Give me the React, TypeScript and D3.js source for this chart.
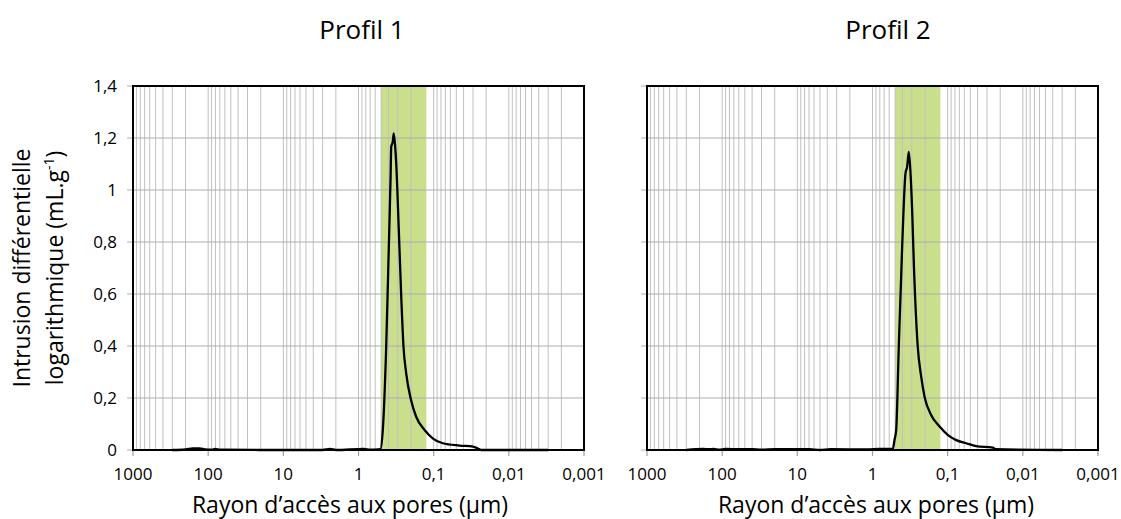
import React from 'react';
import * as d3 from 'd3';

// ---- data ----
const xTickValues = [1000, 100, 10, 1, 0.1, 0.01, 0.001];
const xTickLabels = ['1000', '100', '10', '1', '0,1', '0,01', '0,001'];
const yTickValues = [0, 0.2, 0.4, 0.6, 0.8, 1, 1.2, 1.4];
const yTickLabels = ['0', '0,2', '0,4', '0,6', '0,8', '1', '1,2', '1,4'];

const bandRange = [0.5, 0.125];

const profil1Radius = [300, 200, 160, 130, 110, 90, 80, 70, 20, 3, 2.4, 2, 0.85, 0.7, 0.55, 0.51, 0.475, 0.428, 0.395, 0.375, 0.367, 0.35, 0.34, 0.325, 0.315, 0.291, 0.27, 0.252, 0.232, 0.2, 0.171, 0.132, 0.103, 0.0757, 0.0454, 0.03, 0.026, 0.0234, 0.003];
const profil1Values = [0, 0.002, 0.006, 0.006, 0.002, 0.001, 0.004, 0.001, 0, 0, 0.004, 0, 0.004, 0.001, 0.002, 0.003, 0.077, 0.397, 0.782, 1.038, 1.166, 1.186, 1.218, 1.166, 1.103, 0.846, 0.59, 0.397, 0.295, 0.192, 0.128, 0.077, 0.045, 0.026, 0.017, 0.013, 0.006, 0, 0];

const profil2Radius = [300, 180, 150, 130, 110, 90, 60, 40, 30, 20, 6.9, 5, 3.6, 1.2, 0.8, 0.6, 0.537, 0.51, 0.484, 0.447, 0.403, 0.364, 0.346, 0.329, 0.312, 0.296, 0.282, 0.25, 0.225, 0.203, 0.166, 0.128, 0.1, 0.077, 0.0567, 0.042, 0.025, 0.023, 0.003];
const profil2Values = [0, 0.004, 0.003, 0.004, 0.001, 0.004, 0.003, 0.003, 0.001, 0.003, 0.003, 0, 0.003, 0.002, 0.004, 0.004, 0.004, 0.038, 0.077, 0.397, 0.782, 1.064, 1.09, 1.147, 1.064, 0.911, 0.718, 0.397, 0.282, 0.205, 0.135, 0.09, 0.058, 0.038, 0.026, 0.015, 0.009, 0.003, 0];

const FONT = '"Open Sans", "Noto Sans", sans-serif';

const PW = 451;
const PH = 364;
const TOP = 86;

type PanelProps = {
  left: number;
  title: string;
  titleX: number;
  xLabelX: number;
  radius: number[];
  values: number[];
  showYLabels: boolean;
};

function Panel({ left, title, titleX, xLabelX, radius, values, showYLabels }: PanelProps) {
  const x = d3.scaleLog().domain([1000, 0.001]).range([0, PW]);
  const y = d3.scaleLinear().domain([0, 1.4]).range([PH, 0]);

  const minor: number[] = [];
  for (let e = -3; e < 3; e++) {
    for (let k = 1; k < 10; k++) minor.push(k * Math.pow(10, e));
  }
  const pts = radius.map((r, i) => [r, values[i]] as [number, number]);
  const line = d3
    .line<[number, number]>()
    .x((d) => x(d[0]))
    .y((d) => y(d[1]))
    .curve(d3.curveMonotoneX);

  return (
    <g>
      <text x={titleX} y={39} textAnchor="middle" fontFamily={FONT} fontSize={26} fill="#000">
        {title}
      </text>
      <g transform={`translate(${left},${TOP})`}>
        <rect
          x={x(bandRange[0])}
          y={0}
          width={x(bandRange[1]) - x(bandRange[0])}
          height={PH}
          fill="#cadf8c"
        />
        {minor.map((v, i) => (
          <line key={'v' + i} x1={x(v)} x2={x(v)} y1={0} y2={PH} stroke="#c0c0c0" strokeWidth={1} />
        ))}
        {yTickValues.map((v, i) => (
          <line key={'h' + i} x1={-6} x2={PW} y1={y(v)} y2={y(v)} stroke="#adadad" strokeWidth={1.2} />
        ))}
        {xTickValues.map((v, i) => (
          <line key={'t' + i} x1={x(v)} x2={x(v)} y1={PH} y2={PH + 6} stroke="#a0a0a0" strokeWidth={1.2} />
        ))}
        <path d={line(pts) || ''} fill="none" stroke="#000" strokeWidth={2.3} strokeLinejoin="round" />
        <rect x={0} y={0} width={PW} height={PH} fill="none" stroke="#000" strokeWidth={2} />
        {xTickValues.map((v, i) => (
          <text key={'xl' + i} x={x(v)} y={PH + 30} textAnchor="middle" fontFamily={FONT} fontSize={17} fill="#000">
            {xTickLabels[i]}
          </text>
        ))}
        {showYLabels &&
          yTickValues.map((v, i) => (
            <text key={'yl' + i} x={-16} y={y(v)} dy="0.35em" textAnchor="end" fontFamily={FONT} fontSize={17} fill="#000">
              {yTickLabels[i]}
            </text>
          ))}
      </g>
      <text x={xLabelX} y={513} textAnchor="middle" fontFamily={FONT} fontSize={23} fill="#000">
        Rayon d’accès aux pores (µm)
      </text>
    </g>
  );
}

export default function App() {
  const cy = TOP + PH / 2;
  return (
    <svg width={1121} height={519} style={{ position: 'absolute', left: 0, top: 0, background: '#fff' }}>
      <rect x={0} y={0} width={1121} height={519} fill="#fff" />
      <Panel left={133} title="Profil 1" titleX={362} xLabelX={350} radius={profil1Radius} values={profil1Values} showYLabels={true} />
      <Panel left={647} title="Profil 2" titleX={888} xLabelX={876} radius={profil2Radius} values={profil2Values} showYLabels={false} />
      <text transform={`translate(30,${cy}) rotate(-90)`} textAnchor="middle" fontFamily={FONT} fontSize={23} fill="#000">
        Intrusion différentielle
      </text>
      <text transform={`translate(63,${cy}) rotate(-90)`} textAnchor="middle" fontFamily={FONT} fontSize={23} fill="#000">
        logarithmique (mL.g
        <tspan baselineShift="super" fontSize={14}>-1</tspan>)
      </text>
    </svg>
  );
}
